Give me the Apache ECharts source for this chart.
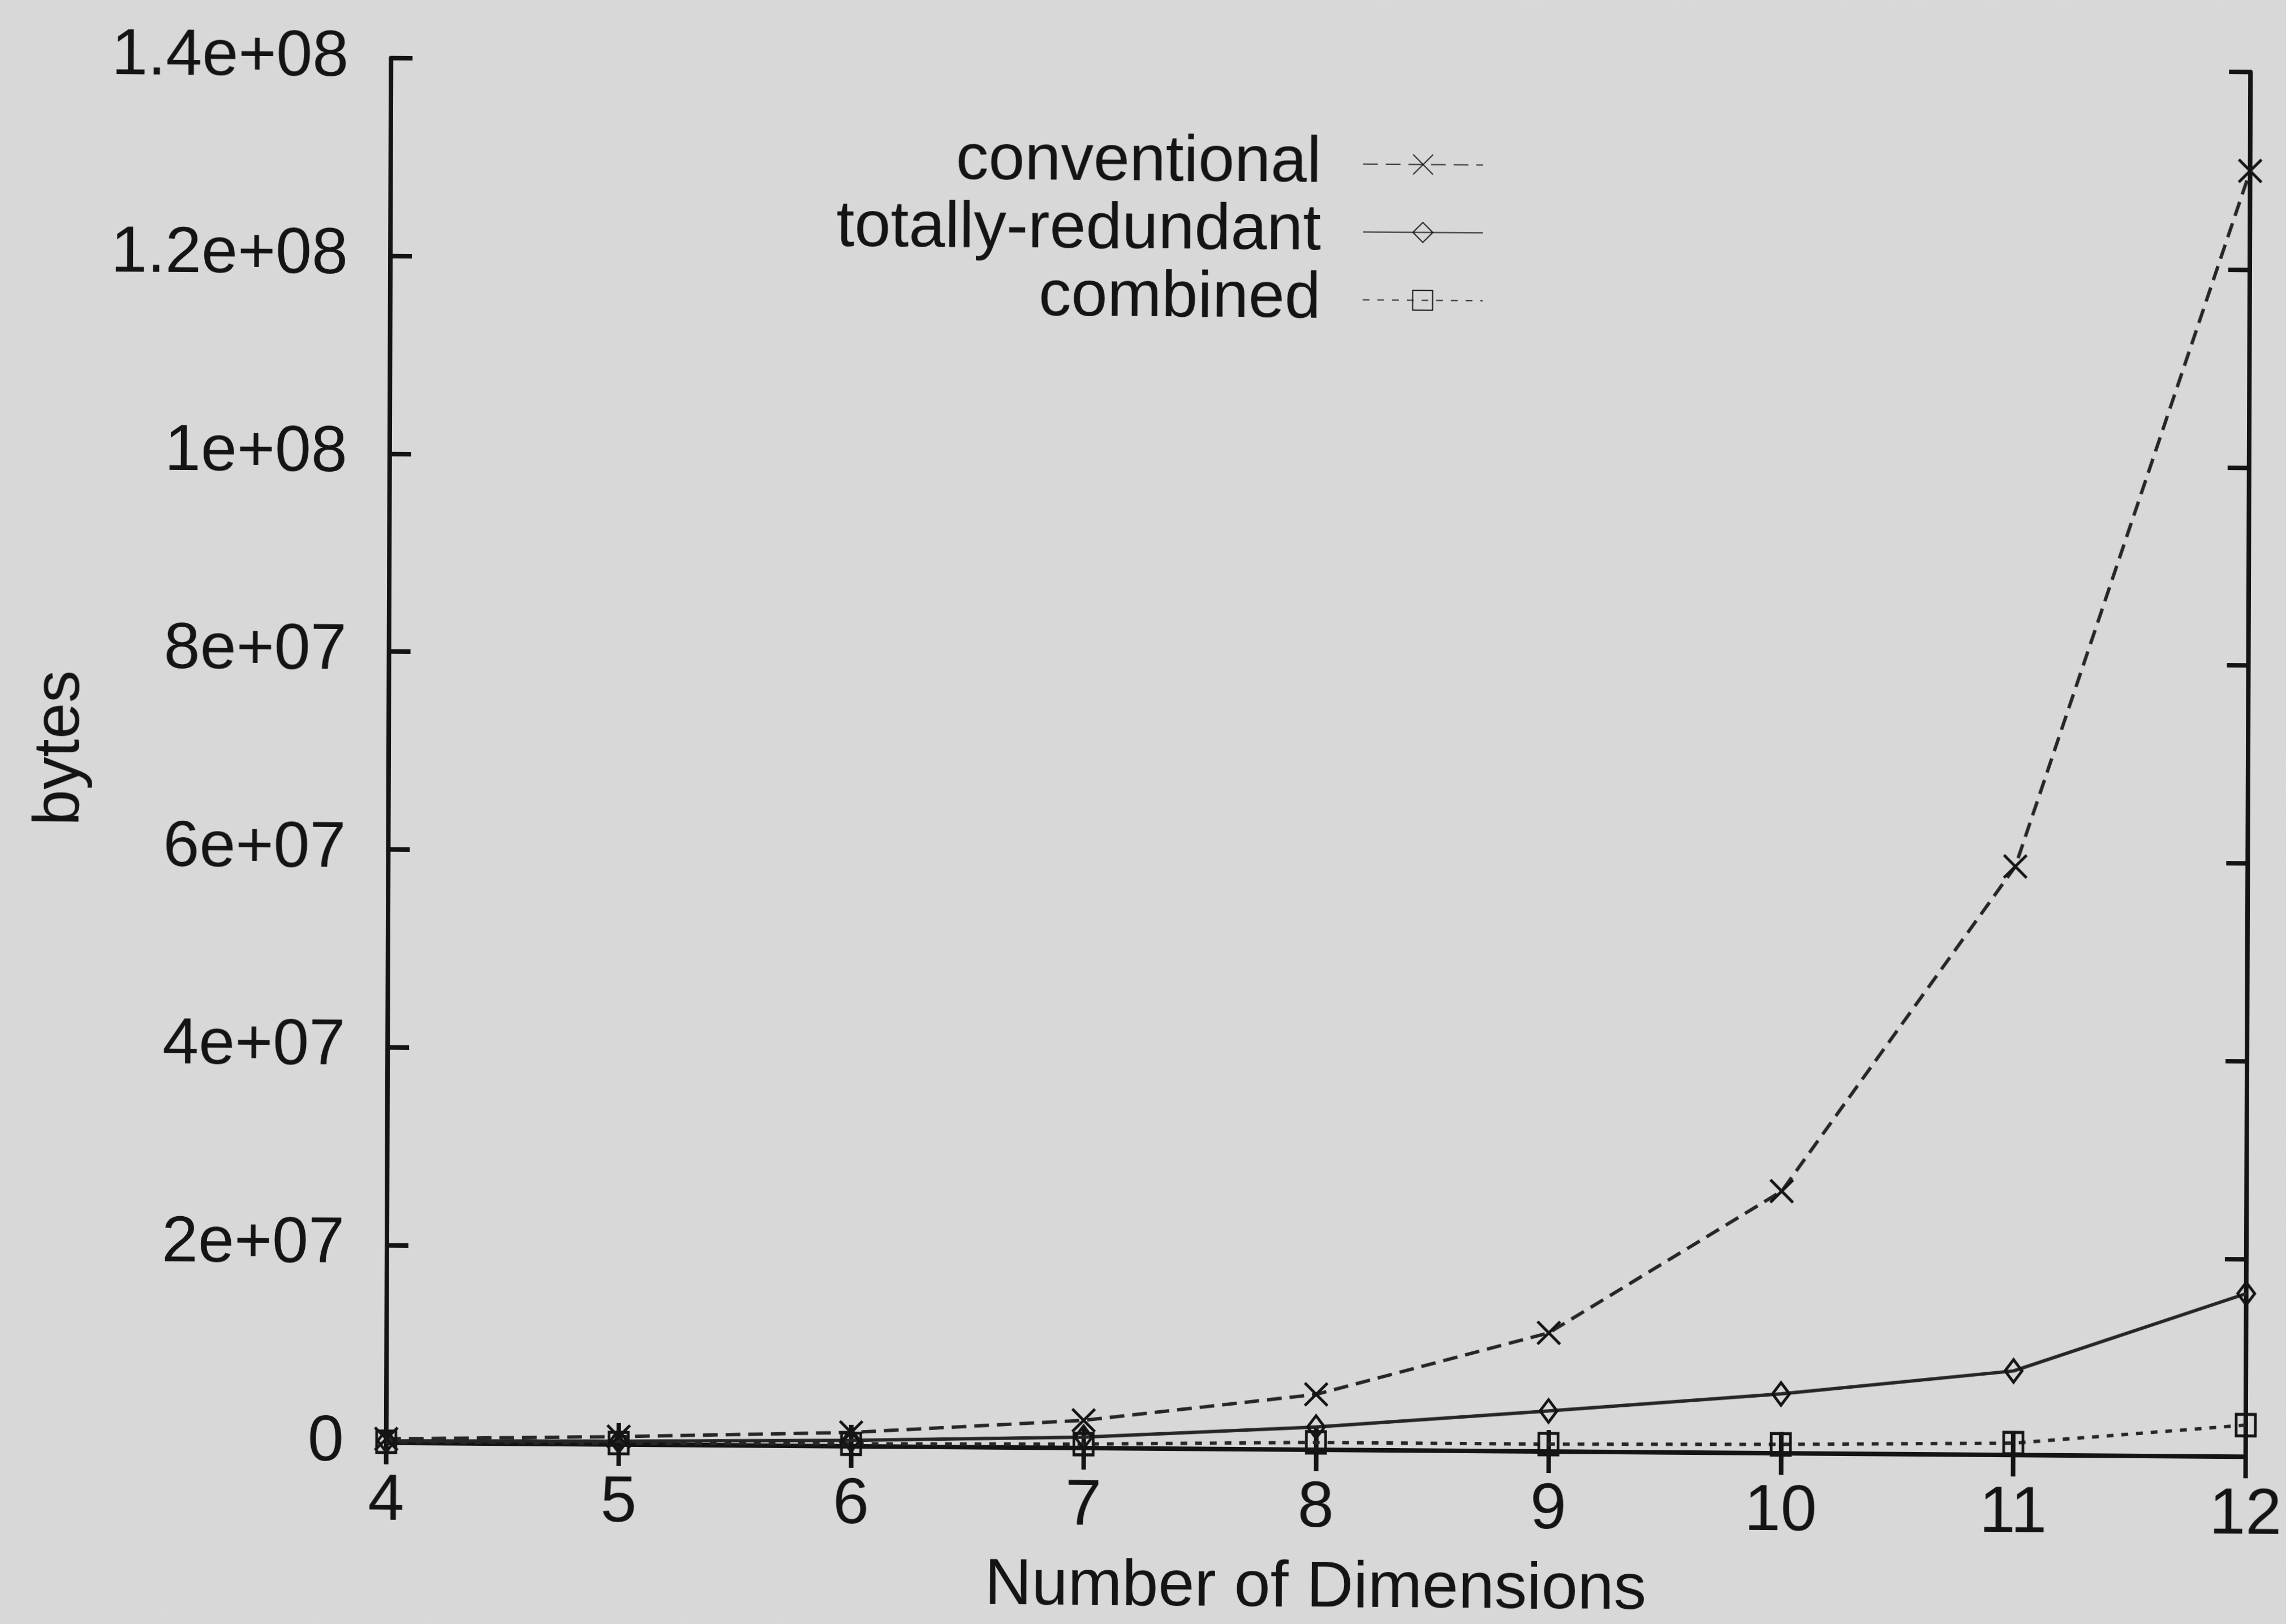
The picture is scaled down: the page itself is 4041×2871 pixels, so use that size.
<!DOCTYPE html>
<html>
<head>
<meta charset="utf-8">
<title>Storage size by number of dimensions</title>
<script src="https://cdn.jsdelivr.net/npm/echarts@6/dist/echarts.min.js"></script>
<style>
  html, body { margin: 0; padding: 0; background: #d8d8d8; overflow: hidden; }
  /* the printed page sits slightly askew */
  #chart {
    width: 4041px; height: 2871px;
    transform-origin: 2331px 1351px;
    transform: skewY(0.43deg) skewX(-0.2deg);
  }
</style>
</head>
<body>
<div id="chart"></div>
<script>
// Number of dimensions (x values)
const dims = [4, 5, 6, 7, 8, 9, 10, 11, 12];

// Storage in bytes for each scheme
const conventional     = [0.4e6, 0.8e6, 1.4e6, 2.8e6, 5.6e6, 1.2e7, 2.65e7, 5.95e7, 1.30e8];
const totallyRedundant = [0.2e6, 0.35e6, 0.6e6, 1.1e6, 2.3e6, 4.1e6, 6.0e6, 8.5e6, 1.65e7];
const combined         = [0.1e6, 0.15e6, 0.25e6, 0.4e6, 0.75e6, 0.75e6, 0.9e6, 1.2e6, 3.2e6];

const seriesNames = ['conventional', 'totally-redundant', 'combined'];

// y tick labels in printf %g style
const yTickValues = [0, 2e7, 4e7, 6e7, 8e7, 1e8, 1.2e8, 1.4e8];
const yTickLabels = ['0', '2e+07', '4e+07', '6e+07', '8e+07', '1e+08', '1.2e+08', '1.4e+08'];

const INK = '#141414';
const FONT = '"Liberation Sans", Arial, Helvetica, sans-serif';
const FS = 115;

const pairs = (ys) => dims.map((d, i) => [d, ys[i]]);

const chart = echarts.init(document.getElementById('chart'), null, { renderer: 'canvas' });

const frameLine = { show: true, lineStyle: { color: INK, width: 8 } };
const innerTick = { show: true, inside: true, length: 38, lineStyle: { color: INK, width: 8 } };

const markerStyle = { color: 'transparent', borderColor: INK, borderWidth: 5 };

chart.setOption({
  animation: false,
  backgroundColor: '#d8d8d8',
  textStyle: { fontFamily: FONT, color: INK },
  grid: { left: 687, right: 66, top: 115, bottom: 284, containLabel: false },
  legend: {
    orient: 'vertical',
    right: 1422,
    top: 232,
    align: 'right',
    padding: 0,
    itemGap: 5,
    itemWidth: 212,
    itemHeight: 44,
    selectedMode: false,
    data: seriesNames,
    textStyle: { fontSize: FS, fontFamily: FONT, color: INK, padding: [0, 69, 0, 0] }
  },
  xAxis: [
    {
      type: 'value', position: 'bottom', min: 4, max: 12, interval: 1,
      axisLine: frameLine, axisTick: innerTick, splitLine: { show: false },
      axisLabel: { fontSize: FS, fontFamily: FONT, color: INK, margin: 47 },
      name: 'Number of Dimensions', nameLocation: 'middle', nameGap: 188,
      nameTextStyle: { fontSize: FS, fontFamily: FONT, color: INK }
    },
    {
      type: 'value', position: 'top', min: 4, max: 12, interval: 1,
      axisLine: frameLine, axisTick: innerTick, splitLine: { show: false },
      axisLabel: { show: false }
    }
  ],
  yAxis: [
    {
      type: 'value', position: 'left', min: 0, max: 1.4e8, interval: 2e7,
      axisLine: frameLine, axisTick: innerTick, splitLine: { show: false },
      axisLabel: {
        fontSize: FS, fontFamily: FONT, color: INK, margin: 75,
        formatter: (v) => {
          const k = yTickValues.findIndex((t) => Math.abs(t - v) < 1);
          return k >= 0 ? yTickLabels[k] : '';
        }
      },
      name: 'bytes', nameLocation: 'middle', nameGap: 522, nameRotate: 90,
      nameTextStyle: { fontSize: FS, fontFamily: FONT, color: INK }
    },
    {
      type: 'value', position: 'right', min: 0, max: 1.4e8, interval: 2e7,
      axisLine: frameLine, axisTick: innerTick, splitLine: { show: false },
      axisLabel: { show: false }
    }
  ],
  series: [
    {
      name: seriesNames[0], type: 'line', data: pairs(conventional),
      symbol: 'path://M0 0L10 10M10 0L0 10', symbolSize: 40,
      itemStyle: markerStyle,
      lineStyle: { color: '#262626', width: 6, type: [26, 14] },
      z: 3
    },
    {
      name: seriesNames[1], type: 'line', data: pairs(totallyRedundant),
      symbol: 'diamond', symbolSize: [30, 40],
      itemStyle: markerStyle,
      lineStyle: { color: '#262626', width: 6, type: 'solid' },
      z: 3
    },
    {
      name: seriesNames[2], type: 'line', data: pairs(combined),
      symbol: 'rect', symbolSize: [34, 38],
      itemStyle: markerStyle,
      lineStyle: { color: '#262626', width: 6, type: [12, 14] },
      z: 3
    }
  ]
});
</script>
</body>
</html>
